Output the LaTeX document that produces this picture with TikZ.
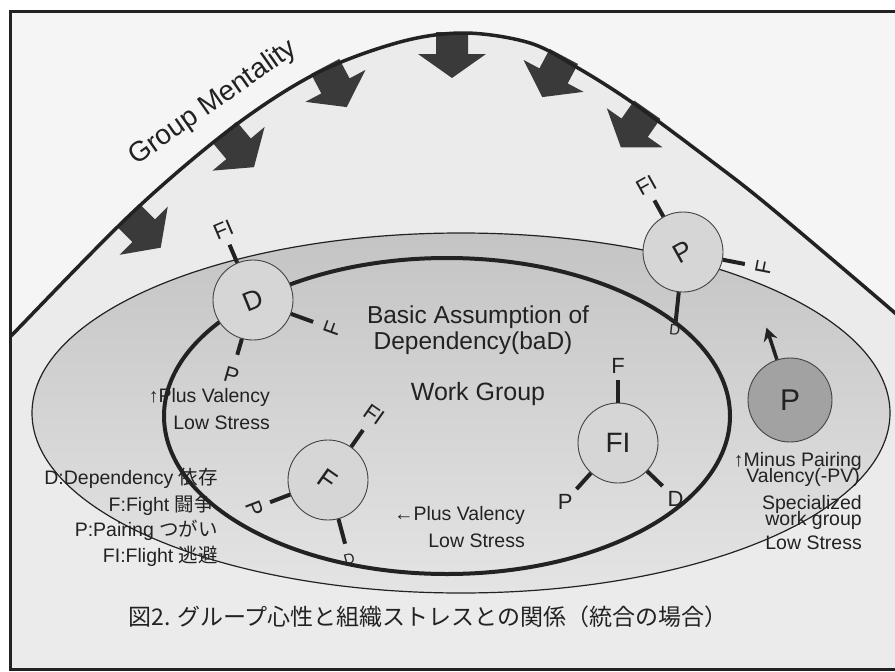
\documentclass[tikz,border=0pt]{standalone}
\usepackage{fontspec}
\setmainfont{Liberation Sans}
\newfontfamily\cjk{Noto Sans CJK JP}
\usetikzlibrary{arrows.meta}
\definecolor{pagebg}{HTML}{F5F5F5}
\definecolor{bellbg}{HTML}{EBEBEB}
\definecolor{ellTop}{HTML}{C4C4C4}
\definecolor{ellBot}{HTML}{E4E4E4}
\definecolor{circfill}{HTML}{D6D6D6}
\definecolor{darkcirc}{HTML}{A2A2A2}
\definecolor{ink}{HTML}{222222}
\definecolor{arrowgray}{HTML}{3A3A3A}
\newcommand{\fsz}[1]{\fontsize{#1}{#1}\selectfont}
\newcommand{\gmarrow}[3]{% x, y, angle
  \begin{scope}[shift={(#1,#2)}, rotate=#3]
    \fill[arrowgray] (-4,16) -- (18,16) -- (18,34) -- (42,0) -- (18,-34) -- (18,-16) -- (-4,-16) -- cycle;
  \end{scope}}
\newcommand{\spk}[8]{% circle, tag, angle, end r, label r, text, rotation, style
  \coordinate (#1#2e) at ([shift={(#3:#4)}]#1.center);
  \draw[spoke] (#1.#3) -- (#1#2e);
  \node[#8, rotate=#7] (#1#2t) at ([shift={(#3:#5)}]#1.center) {#6};}
\begin{document}
\begin{tikzpicture}[x=1pt,y=1pt,
  every node/.style={text=ink, inner sep=0pt},
  circ/.style={circle, draw=ink!85, line width=0.9pt, fill=circfill, minimum size=80pt},
  spoke/.style={line width=4pt, draw=ink},
  slbl/.style={font=\fsz{22}},
  tinylbl/.style={font=\fsz{15}},
  bigtxt/.style={font=\fsz{24.5}},
  midtxt/.style={font=\fsz{19.5}, anchor=east},
  legtxt/.style={font=\fsz{19.5}, anchor=east},
  rtxt/.style={font=\fsz{19.5}, anchor=east},
]
\useasboundingbox (0,0) rectangle (895,-672);
\fill[white] (0,0) rectangle (895,-672);
\begin{scope}
  \clip (10,-11) rectangle (900,-669);
  \fill[pagebg] (0,0) rectangle (900,-672);
  \fill[bellbg] plot[smooth,tension=0.55] coordinates {(-10,-358) (10,-337) (133,-212) (233,-127) (317,-73) (400,-42) (465,-33) (530,-43) (578,-68) (633,-103) (710,-160) (770,-207) (895,-313) (915,-333)} -- (915,-700) -- (-10,-700) -- cycle;
  % pressure arrows
  \gmarrow{131}{-218}{-45}
  \gmarrow{227}{-135}{-50}
  \gmarrow{327}{-70}{-62}
  \gmarrow{452}{-36}{-90}
  \gmarrow{562}{-60}{-118}
  \gmarrow{645}{-113}{-125}
  \draw[line width=3.5pt, draw=ink] plot[smooth,tension=0.55] coordinates {(-10,-358) (10,-337) (133,-212) (233,-127) (317,-73) (400,-42) (465,-33) (530,-43) (578,-68) (633,-103) (710,-160) (770,-207) (895,-313) (915,-333)};
  % ellipses
  \draw[line width=1.2pt, draw=ink, top color=ellTop, bottom color=ellBot] (461,-413) ellipse [x radius=429, y radius=180];
  \draw[line width=4pt, draw=ink] (447,-416) ellipse [x radius=283, y radius=158];
\end{scope}
\draw[line width=3pt, draw=ink] (10,-11) rectangle (900,-669);

\node[font=\fsz{28}, rotate=35] (gm) at (213,-103) {Group Mentality};

% circle D
\node[circ] (D) at (253,-300) {};
\node[font=\fsz{27}, rotate=22] (Dt) at (D) {D};
\spk{D}{fi}{113}{60}{76}{FI}{23}{slbl}
\spk{D}{f}{-20}{64}{84}{F}{70}{slbl}
\spk{D}{p}{-106}{57}{78}{P}{-16}{slbl}

% circle P (top right)
\node[circ] (P) at (683,-252) {};
\node[font=\fsz{27}, rotate=29] (Pt) at (P) {P};
\spk{P}{fi}{119}{59}{76}{FI}{29}{slbl}
\spk{P}{f}{-11}{63}{82}{F}{79}{slbl}
\spk{P}{d}{-96}{70}{78}{D}{-6}{tinylbl}

% circle F
\node[circ] (F) at (328,-480) {};
\node[font=\fsz{27}, rotate=-35] (Ft) at (F) {F};
\spk{F}{fi}{55}{61}{80}{FI}{-35}{slbl}
\spk{F}{p}{201}{62}{79}{P}{-69}{slbl}
\spk{F}{d}{-75}{66}{82}{D}{15}{tinylbl}

% circle FI
\node[circ] (FI) at (618,-443) {};
\node[font=\fsz{28}] (FIt) at (FI) {FI};
\spk{FI}{f}{90}{63}{77}{F}{0}{slbl}
\spk{FI}{p}{228}{62}{79}{P}{0}{slbl}
\spk{FI}{d}{-44}{62}{80}{D}{0}{slbl}

% dark P circle
\node[circ, fill=darkcirc, minimum size=84pt] (PP) at (790,-400) {};
\node[font=\fsz{30}] (PPt) at (PP) {P};
\coordinate (PPa) at ([shift={(108:76)}]PP.center);
\draw[line width=3.5pt, draw=ink, -{Stealth[length=13pt,width=14pt]}] (PP.108) -- (PPa);

% texts
\node[bigtxt] (ba1) at (478,-317) {Basic Assumption of};
\node[bigtxt] (ba2) at (473,-343) {Dependency(baD)};
\node[bigtxt, font=\fsz{25}] (wg) at (478,-394) {Work Group};
\node[midtxt] (pv1) at (270,-397) {↑Plus Valency};
\node[midtxt] (ls1) at (270,-423) {Low Stress};
\node[midtxt] (pv2) at (525,-515) {←Plus Valency};
\node[midtxt] (ls2) at (525,-541) {Low Stress};

\node[legtxt] (lg1) at (218,-478) {D:Dependency {\cjk 依存}};
\node[legtxt] (lg2) at (214,-505) {F:Fight {\cjk 闘争}};
\node[legtxt] (lg3) at (218,-530) {P:Pairing {\cjk つがい}};
\node[legtxt] (lg4) at (218,-556) {FI:Flight {\cjk 逃避}};

\node[rtxt] (r1) at (862,-461) {↑Minus Pairing};
\node[rtxt] (r2) at (860,-477) {Valency(-PV)};
\node[rtxt] (r3) at (862,-504) {Specialized};
\node[rtxt] (r4) at (862,-520) {work group};
\node[rtxt] (r5) at (862,-543) {Low Stress};

\node[font=\cjk\fsz{23}] (cap) at (428,-617) {図2. グループ心性と組織ストレスとの関係（統合の場合）};
\end{tikzpicture}
\end{document}
